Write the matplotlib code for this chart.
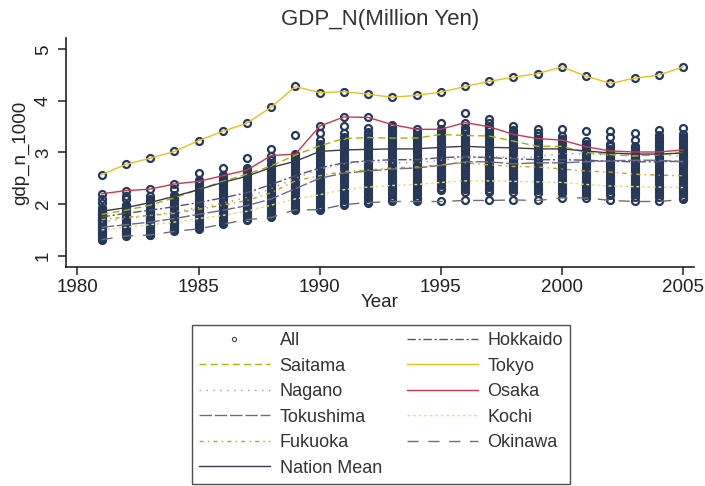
import matplotlib
matplotlib.use("Agg")
import matplotlib.pyplot as plt
from matplotlib.lines import Line2D
import numpy as np

plt.rcParams['font.family'] = ['Liberation Sans', 'DejaVu Sans']

years = list(range(1981, 2006))

tokyo = [2.57, 2.77, 2.89, 3.02, 3.23, 3.41, 3.57, 3.88, 4.28, 4.16, 4.18, 4.13, 4.07,
         4.11, 4.17, 4.28, 4.38, 4.46, 4.53, 4.66, 4.48, 4.34, 4.44, 4.50, 4.66]
osaka = [2.20, 2.26, 2.29, 2.39, 2.44, 2.55, 2.66, 2.94, 2.97, 3.51, 3.69, 3.68, 3.54,
         3.45, 3.45, 3.58, 3.50, 3.35, 3.27, 3.24, 3.11, 3.03, 3.01, 3.01, 3.05]
saitama = [1.80, 1.88, 1.98, 2.12, 2.28, 2.44, 2.58, 2.74, 2.95, 3.13, 3.27, 3.29, 3.28,
           3.28, 3.35, 3.33, 3.32, 3.22, 3.12, 3.12, 3.00, 2.96, 2.93, 2.96, 3.00]
nation_mean = [1.86, 1.93, 2.03, 2.15, 2.28, 2.42, 2.54, 2.71, 2.83, 3.02, 3.05, 3.06, 3.07,
               3.07, 3.10, 3.12, 3.10, 3.09, 3.07, 3.07, 3.03, 2.99, 2.97, 2.97, 2.99]
hokkaido = [1.75, 1.82, 1.88, 1.95, 2.03, 2.12, 2.22, 2.38, 2.55, 2.70, 2.80, 2.84, 2.86,
            2.86, 2.90, 2.92, 2.90, 2.88, 2.86, 2.86, 2.85, 2.83, 2.82, 2.82, 2.83]
nagano = [1.65, 1.72, 1.78, 1.85, 1.93, 2.02, 2.13, 2.30, 2.50, 2.68, 2.78, 2.82, 2.80,
          2.80, 2.85, 2.90, 2.92, 2.90, 2.92, 2.98, 2.97, 2.95, 2.95, 2.95, 2.93]
tokushima = [1.55, 1.60, 1.65, 1.72, 1.80, 1.88, 1.97, 2.10, 2.30, 2.50, 2.60, 2.64, 2.68,
             2.70, 2.75, 2.82, 2.82, 2.78, 2.80, 2.80, 2.82, 2.84, 2.85, 2.85, 2.82]
fukuoka = [1.70, 1.75, 1.78, 1.82, 1.90, 1.98, 2.07, 2.22, 2.45, 2.55, 2.63, 2.66, 2.70,
           2.72, 2.76, 2.80, 2.76, 2.73, 2.72, 2.68, 2.64, 2.62, 2.58, 2.56, 2.55]
kochi = [1.50, 1.55, 1.60, 1.65, 1.72, 1.78, 1.86, 1.98, 2.10, 2.18, 2.28, 2.33, 2.36,
         2.38, 2.42, 2.45, 2.45, 2.44, 2.43, 2.42, 2.38, 2.35, 2.34, 2.33, 2.32]
okinawa = [1.31, 1.38, 1.40, 1.47, 1.52, 1.61, 1.70, 1.74, 1.89, 1.89, 1.99, 2.03, 2.05,
           2.05, 2.05, 2.07, 2.07, 2.08, 2.07, 2.12, 2.12, 2.07, 2.05, 2.05, 2.09]

# other prefectures (part of "All"), values per year
others = {
    1981: [1.33, 1.36, 1.40, 1.43, 1.46, 1.50, 1.53, 1.56, 1.58, 1.61, 1.64, 1.67, 1.70, 1.72,
           1.75, 1.78, 1.81, 1.84, 1.87, 1.90, 1.93, 2.02, 2.09],
    1982: [1.40, 1.43, 1.47, 1.50, 1.53, 1.57, 1.60, 1.63, 1.66, 1.69, 1.72, 1.75, 1.78, 1.81,
           1.84, 1.87, 1.90, 1.93, 1.96, 1.99, 2.09, 2.15],
    1983: [1.40, 1.44, 1.48, 1.52, 1.55, 1.59, 1.62, 1.66, 1.69, 1.72, 1.76, 1.79, 1.82, 1.86,
           1.89, 1.92, 1.96, 1.99, 2.02, 2.06, 2.09, 2.16],
    1984: [1.49, 1.53, 1.57, 1.61, 1.64, 1.68, 1.72, 1.75, 1.79, 1.82, 1.86, 1.89, 1.93, 1.96,
           2.00, 2.03, 2.07, 2.10, 2.14, 2.18, 2.30],
    1985: [1.55, 1.58, 1.62, 1.66, 1.70, 1.74, 1.78, 1.82, 1.86, 1.90, 1.94, 1.98, 2.02, 2.06,
           2.10, 2.14, 2.18, 2.22, 2.26, 2.30, 2.34, 2.38, 2.42, 2.46, 2.60],
    1986: [1.63, 1.67, 1.71, 1.75, 1.79, 1.83, 1.87, 1.91, 1.95, 1.99, 2.03, 2.07, 2.11, 2.15,
           2.19, 2.23, 2.27, 2.31, 2.35, 2.39, 2.43, 2.47, 2.51, 2.56, 2.70],
    1987: [1.72, 1.76, 1.80, 1.84, 1.88, 1.92, 1.96, 2.00, 2.04, 2.08, 2.12, 2.16, 2.20, 2.24,
           2.28, 2.32, 2.36, 2.40, 2.44, 2.48, 2.52, 2.56, 2.60, 2.64, 2.69, 2.90],
    1988: [1.76, 1.80, 1.84, 1.88, 1.93, 1.97, 2.01, 2.05, 2.10, 2.14, 2.18, 2.22, 2.27, 2.31,
           2.35, 2.39, 2.44, 2.48, 2.52, 2.56, 2.61, 2.65, 2.69, 2.73, 2.78, 2.86, 3.07],
    1989: [1.91, 1.95, 1.99, 2.03, 2.07, 2.11, 2.15, 2.19, 2.24, 2.28, 2.32, 2.36, 2.40, 2.44,
           2.48, 2.52, 2.56, 2.60, 2.64, 2.68, 2.72, 2.76, 2.80, 2.84, 2.88, 2.92, 3.34],
    1990: [1.93, 1.97, 2.02, 2.07, 2.12, 2.17, 2.22, 2.27, 2.32, 2.37, 2.42, 2.47, 2.52, 2.57,
           2.62, 2.67, 2.72, 2.77, 2.82, 2.87, 2.92, 2.97, 3.02, 3.07, 3.12, 3.17, 3.25, 3.38],
    1991: [2.02, 2.07, 2.12, 2.17, 2.22, 2.27, 2.32, 2.37, 2.42, 2.47, 2.52, 2.57, 2.62, 2.67,
           2.72, 2.77, 2.82, 2.87, 2.92, 2.97, 3.02, 3.07, 3.12, 3.17, 3.22, 3.27, 3.31, 3.38,
           3.51],
    1992: [2.06, 2.11, 2.16, 2.21, 2.26, 2.31, 2.36, 2.41, 2.46, 2.51, 2.56, 2.61, 2.66, 2.71,
           2.76, 2.81, 2.86, 2.91, 2.96, 3.01, 3.06, 3.11, 3.16, 3.21, 3.26, 3.31, 3.36, 3.40,
           3.47],
    1993: [2.09, 2.14, 2.19, 2.24, 2.29, 2.34, 2.39, 2.44, 2.49, 2.54, 2.59, 2.64, 2.69, 2.74,
           2.79, 2.84, 2.89, 2.94, 2.99, 3.04, 3.09, 3.14, 3.19, 3.24, 3.29, 3.34, 3.39, 3.44,
           3.49],
    1994: [2.09, 2.14, 2.19, 2.24, 2.29, 2.34, 2.39, 2.44, 2.49, 2.54, 2.59, 2.64, 2.69, 2.74,
           2.79, 2.84, 2.89, 2.94, 2.99, 3.04, 3.09, 3.14, 3.19, 3.24, 3.29, 3.34, 3.39],
    1995: [2.27, 2.32, 2.37, 2.42, 2.47, 2.52, 2.57, 2.62, 2.67, 2.72, 2.77, 2.82, 2.87, 2.92,
           2.97, 3.02, 3.07, 3.12, 3.17, 3.22, 3.27, 3.32, 3.37, 3.42, 3.58],
    1996: [2.24, 2.29, 2.34, 2.39, 2.44, 2.49, 2.54, 2.59, 2.64, 2.69, 2.74, 2.79, 2.84, 2.89,
           2.94, 2.99, 3.04, 3.09, 3.14, 3.19, 3.24, 3.29, 3.34, 3.39, 3.44, 3.48, 3.77],
    1997: [2.23, 2.28, 2.33, 2.38, 2.43, 2.48, 2.53, 2.58, 2.63, 2.68, 2.73, 2.78, 2.83, 2.88,
           2.93, 2.98, 3.03, 3.08, 3.13, 3.18, 3.23, 3.28, 3.33, 3.38, 3.43, 3.47, 3.58, 3.65],
    1998: [2.24, 2.29, 2.34, 2.39, 2.44, 2.49, 2.54, 2.59, 2.64, 2.69, 2.74, 2.79, 2.84, 2.89,
           2.94, 2.99, 3.04, 3.09, 3.14, 3.19, 3.24, 3.29, 3.34, 3.39, 3.44, 3.52],
    1999: [2.22, 2.27, 2.32, 2.37, 2.42, 2.47, 2.52, 2.57, 2.62, 2.67, 2.72, 2.77, 2.82, 2.87,
           2.92, 2.97, 3.02, 3.07, 3.12, 3.17, 3.22, 3.27, 3.32, 3.37, 3.45],
    2000: [2.22, 2.27, 2.32, 2.37, 2.42, 2.47, 2.52, 2.57, 2.62, 2.67, 2.72, 2.77, 2.82, 2.87,
           2.92, 2.97, 3.02, 3.07, 3.12, 3.17, 3.22, 3.27, 3.32, 3.45],
    2001: [2.17, 2.22, 2.27, 2.32, 2.37, 2.42, 2.47, 2.52, 2.57, 2.62, 2.67, 2.72, 2.77, 2.82,
           2.87, 2.92, 2.97, 3.02, 3.07, 3.12, 3.16, 3.22, 3.41],
    2002: [2.17, 2.22, 2.27, 2.32, 2.37, 2.42, 2.47, 2.52, 2.57, 2.62, 2.67, 2.72, 2.77, 2.82,
           2.87, 2.92, 2.97, 3.02, 3.07, 3.12, 3.16, 3.30, 3.41],
    2003: [2.14, 2.19, 2.24, 2.29, 2.34, 2.39, 2.44, 2.49, 2.54, 2.59, 2.64, 2.69, 2.74, 2.79,
           2.84, 2.89, 2.94, 2.99, 3.04, 3.09, 3.13, 3.25, 3.37],
    2004: [2.14, 2.19, 2.24, 2.29, 2.34, 2.39, 2.44, 2.49, 2.54, 2.59, 2.64, 2.69, 2.74, 2.79,
           2.84, 2.89, 2.94, 2.99, 3.04, 3.09, 3.14, 3.19, 3.24, 3.29, 3.33, 3.43],
    2005: [2.11, 2.16, 2.21, 2.26, 2.31, 2.36, 2.41, 2.46, 2.51, 2.56, 2.61, 2.66, 2.71, 2.76,
           2.81, 2.86, 2.91, 2.96, 3.01, 3.06, 3.11, 3.16, 3.21, 3.26, 3.31, 3.36, 3.48],
}

named = [hokkaido, saitama, tokyo, nagano, osaka, tokushima, kochi, fukuoka, okinawa]
all_x, all_y = [], []
for i, yr in enumerate(years):
    vals = list(others[yr]) + [s[i] for s in named]
    all_x += [yr] * len(vals)
    all_y += vals

W, H = 705, 486
fig = plt.figure(figsize=(W / 100, H / 100), dpi=100)
fig.patch.set_facecolor('white')
ax = fig.add_axes([66 / W, 1 - 267 / H, (694 - 66) / W, (267 - 38) / H])

navy = '#25385a'
ax.plot(all_x, all_y, linestyle='none', marker='o', markersize=5.0,
        markerfacecolor='none', markeredgecolor=navy, markeredgewidth=1.6, zorder=2)

styles = [
    ('Hokkaido', hokkaido, '#5c4f6e', (0, (6, 2, 1.5, 2))),
    ('Saitama', saitama, '#a9b300', (0, (5, 3))),
    ('Tokyo', tokyo, '#e6c21a', '-'),
    ('Nagano', nagano, '#9a9a9a', (0, (1, 4))),
    ('Osaka', osaka, '#c8394f', '-'),
    ('Tokushima', tokushima, '#6b6b88', (0, (9, 2))),
    ('Kochi', kochi, '#e3df7a', (0, (2, 2))),
    ('Fukuoka', fukuoka, '#d0a200', (0, (3, 3, 1, 3))),
    ('Okinawa', okinawa, '#707070', (0, (8, 7))),
    ('Nation Mean', nation_mean, '#3a3a48', '-'),
]
handles = {}
for name, vals, col, ls in styles:
    ln, = ax.plot(years, vals, color=col, linestyle=ls, linewidth=1.0, zorder=3)
    handles[name] = ln

handles['All'] = Line2D([], [], linestyle='none', marker='o', markersize=3,
                        markerfacecolor='none', markeredgecolor='#444444', markeredgewidth=0.8)

ax.set_xlim(1979.53, 2005.45)
ax.set_ylim(0.78, 5.22)
ax.set_xticks([1980, 1985, 1990, 1995, 2000, 2005])
ax.set_yticks([1, 2, 3, 4, 5])
for sp in ['top', 'right']:
    ax.spines[sp].set_visible(False)
for sp in ['left', 'bottom']:
    ax.spines[sp].set_linewidth(1.2)
    ax.spines[sp].set_color('#222222')
ax.tick_params(direction='out', length=6, width=1.1, colors='#222222', labelsize=13.5)
for lab in ax.get_yticklabels():
    lab.set_rotation(90)
    lab.set_va('center')
ax.tick_params(axis='x', pad=3)
ax.tick_params(axis='y', pad=4)
ax.set_xlabel('Year', fontsize=13.5, labelpad=-2, color='#222222')
ax.set_ylabel('gdp_n_1000', fontsize=13.5, labelpad=4, color='#222222')

fig.text(380 / W, 1 - 19 / H, 'GDP_N(Million Yen)', ha='center', va='center',
         fontsize=16, color='#333333')

order = ['All', 'Saitama', 'Nagano', 'Tokushima', 'Fukuoka', 'Nation Mean',
         'Hokkaido', 'Tokyo', 'Osaka', 'Kochi', 'Okinawa']
leg = fig.legend([handles[k] for k in order], order, ncol=2,
                 loc='upper left', bbox_to_anchor=(192 / W, 1 - 325 / H),
                 fontsize=13, frameon=True, fancybox=False, edgecolor='#222222',
                 handlelength=3.9, handletextpad=0.55, columnspacing=1.4,
                 labelspacing=0.47, borderpad=0.4, borderaxespad=0)
leg.get_frame().set_linewidth(1.0)
for t in leg.get_texts():
    t.set_color('#333333')

fig.savefig('out.png', dpi=100)
